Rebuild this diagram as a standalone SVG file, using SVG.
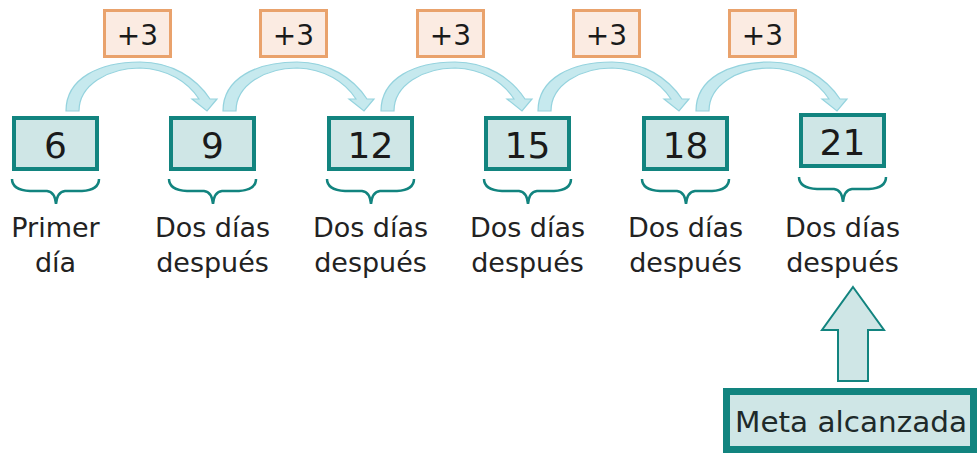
<svg xmlns="http://www.w3.org/2000/svg" width="977" height="453" viewBox="0 0 977 453">
<style>
.box{fill:#cfe6e6;stroke:#12847f;stroke-width:4}
.plus{fill:#fbebe2;stroke:#e9a26c;stroke-width:3}
.num{font-family:"DejaVu Sans",sans-serif;font-size:36px;fill:#1a1a1a;text-anchor:middle}
.pt{font-family:"DejaVu Sans",sans-serif;font-size:28px;fill:#1a1a1a;text-anchor:middle}
.lbl{font-family:"DejaVu Sans",sans-serif;font-size:27px;fill:#222;text-anchor:middle}
.brace{fill:none;stroke:#12847f;stroke-width:2.5}
.arc{fill:#c6e9ee;stroke:#95d3de;stroke-width:1.2}
</style>
<defs>
<path id="arcShape" class="arc" d="M66,111 C66,78 100,62 140,62 C172,62 196,78 210,99 L217,99 L207,111 L192,99 L199,99 C188,82 168,69 140,68 C108,68 79,85 79,111 Z"/>
<path id="braceShape" class="brace" d="M12,179 Q12,190 30,191 L47,191 Q55,192 56,204 Q57,192 65,191 L82,191 Q99,190 99,179"/>
</defs>
<g id="connectors">
<use href="#arcShape"/>
<use href="#arcShape" transform="translate(157,0)"/>
<use href="#arcShape" transform="translate(315,0)"/>
<use href="#arcShape" transform="translate(472,0)"/>
<use href="#arcShape" transform="translate(630,0)"/>
<polygon points="853,287 884,330 868,330 868,381 838,381 838,330 822,330" fill="#cfe6e6" stroke="#12847f" stroke-width="2"/>
</g>
<g id="plus1"><rect class="plus" x="104.5" y="10.5" width="66" height="46"/><text class="pt" x="137.5" y="45">+3</text></g>
<g id="plus2"><rect class="plus" x="260.5" y="10.5" width="66" height="46"/><text class="pt" x="293.5" y="45">+3</text></g>
<g id="plus3"><rect class="plus" x="417.5" y="10.5" width="66" height="46"/><text class="pt" x="450.5" y="45">+3</text></g>
<g id="plus4"><rect class="plus" x="573.5" y="10.5" width="66" height="46"/><text class="pt" x="606.5" y="45">+3</text></g>
<g id="plus5"><rect class="plus" x="729.5" y="10.5" width="66" height="46"/><text class="pt" x="762.5" y="45">+3</text></g>
<g id="n6"><rect class="box" x="14" y="118" width="83" height="51"/><text class="num" x="55.5" y="158">6</text><use href="#braceShape"/><text class="lbl" x="55.5" y="237">Primer</text><text class="lbl" x="55.5" y="272">día</text></g>
<g id="n9"><rect class="box" x="171" y="118" width="83" height="51"/><text class="num" x="212.5" y="158">9</text><use href="#braceShape" transform="translate(157,0)"/><text class="lbl" x="212.5" y="237">Dos días</text><text class="lbl" x="212.5" y="272">después</text></g>
<g id="n12"><rect class="box" x="329" y="118" width="83" height="51"/><text class="num" x="370.5" y="158">12</text><use href="#braceShape" transform="translate(315,0)"/><text class="lbl" x="370.5" y="237">Dos días</text><text class="lbl" x="370.5" y="272">después</text></g>
<g id="n15"><rect class="box" x="486" y="118" width="83" height="51"/><text class="num" x="527.5" y="158">15</text><use href="#braceShape" transform="translate(472,0)"/><text class="lbl" x="527.5" y="237">Dos días</text><text class="lbl" x="527.5" y="272">después</text></g>
<g id="n18"><rect class="box" x="644" y="118" width="83" height="51"/><text class="num" x="685.5" y="158">18</text><use href="#braceShape" transform="translate(630,0)"/><text class="lbl" x="685.5" y="237">Dos días</text><text class="lbl" x="685.5" y="272">después</text></g>
<g id="n21"><rect class="box" x="801" y="115" width="83" height="51"/><text class="num" x="842.5" y="155">21</text><use href="#braceShape" transform="translate(787,-2)"/><text class="lbl" x="842.5" y="237">Dos días</text><text class="lbl" x="842.5" y="272">después</text></g>
<g id="meta"><rect x="726.5" y="391.5" width="247" height="58" fill="#cfe6e6" stroke="#12847f" stroke-width="7"/><text x="735" y="432" font-family="DejaVu Sans, sans-serif" font-size="29" fill="#1e2a2a" textLength="232" lengthAdjust="spacingAndGlyphs">Meta alcanzada</text></g>
</svg>
